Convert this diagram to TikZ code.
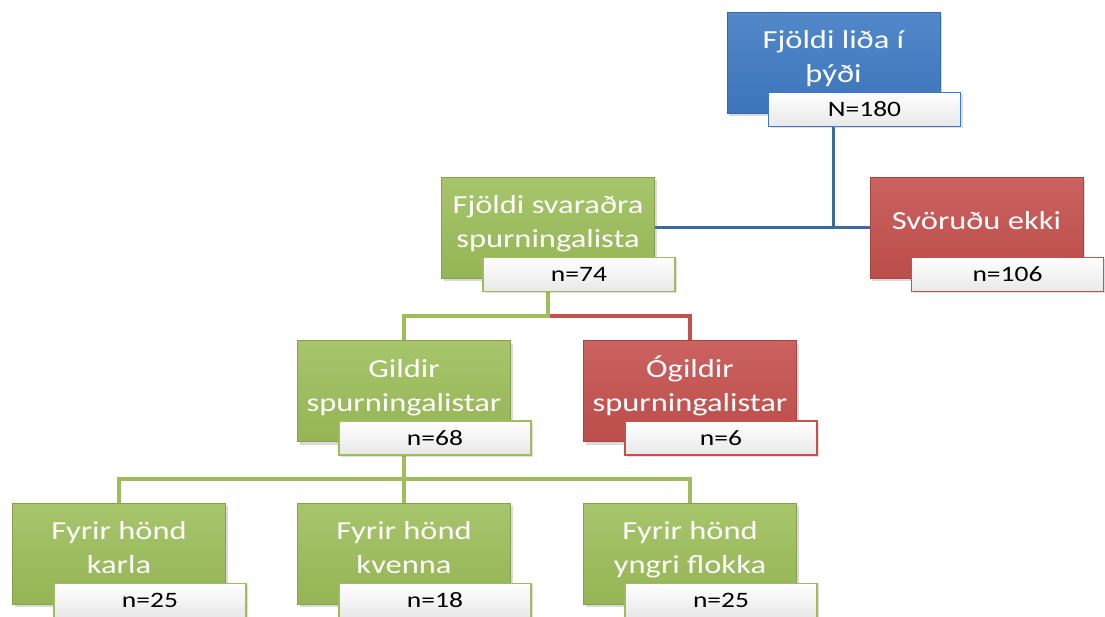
\documentclass[tikz,border=0pt]{standalone}
\usepackage{fontspec}
\setmainfont{Carlito}
\newfontfamily\boxfont[FakeStretch=1.25]{Carlito}
\usetikzlibrary{calc,backgrounds,shadows}

\definecolor{accblue}{HTML}{3F7BC4}
\definecolor{accgreen}{HTML}{9DBE5A}
\definecolor{accred}{HTML}{C5514E}
\definecolor{lineblue}{HTML}{3D6A9E}

\tikzset{
  box/.style={minimum width=213pt, minimum height=101pt, inner sep=0pt,
    align=center, text=white, font=\boxfont\fontsize{26}{34}\selectfont,
    text height=46pt, text depth=6pt,
    draw=#1!85!black, line width=0.6pt, top color=#1!90!white, bottom color=#1!95!black,
    drop shadow={shadow xshift=2pt, shadow yshift=-3pt, opacity=0.3}},
  onebox/.style={box=#1, text height=16pt, text depth=13pt},
  tally/.style={minimum width=192pt, minimum height=34pt, inner sep=0pt,
    draw=#1, line width=1.5pt, top color=white, bottom color=black!9,
    font=\boxfont\fontsize{22}{26}\selectfont,
    drop shadow={shadow xshift=2pt, shadow yshift=-2pt, opacity=0.25}},
  link/.style={line width=3.5pt, draw=#1}
}

\begin{document}
\begin{tikzpicture}[x=1pt, y=-1pt]
        \useasboundingbox (0,0) rectangle (1105,616);

        % Population
        \node[box=accblue] (b1) at (833.5,62.5) {Fjöldi liða í\\þýði};
        \node[tally=accblue] (n1) at ([xshift=31pt,yshift=4pt]b1.south) {N=180};

        % Answered / not answered
        \node[box=accgreen] (b2) at (548,227.5) {Fjöldi svaraðra\\spurningalista};
        \node[tally=accgreen] (n2) at ([xshift=31pt,yshift=4pt]b2.south) {n=74};
        \node[onebox=accred] (b3) at (976.5,227.5) {Svöruðu ekki};
        \node[tally=accred] (n3) at ([xshift=31pt,yshift=4pt]b3.south) {n=106};

        % Valid / invalid
        \node[box=accgreen] (b4) at (404,391) {Gildir\\spurningalistar};
        \node[tally=accgreen] (n4) at ([xshift=31pt,yshift=4pt]b4.south) {n=68};
        \node[box=accred] (b5) at (690,391) {Ógildir\\spurningalistar};
        \node[tally=accred] (n5) at ([xshift=31pt,yshift=4pt]b5.south) {n=6};

        % By category
        \node[box=accgreen] (b6) at (119,553.5) {Fyrir hönd\\karla};
        \node[tally=accgreen] (n6) at ([xshift=31pt,yshift=4pt]b6.south) {n=25};
        \node[box=accgreen] (b7) at (404,553.5) {Fyrir hönd\\kvenna};
        \node[tally=accgreen] (n7) at ([xshift=31pt,yshift=4pt]b7.south) {n=18};
        \node[box=accgreen] (b8) at (690,553.5) {Fyrir hönd\\yngri flokka};
        \node[tally=accgreen] (n8) at ([xshift=31pt,yshift=4pt]b8.south) {n=25};

        % Connectors
        \coordinate (f2) at ($(n2.south)!0.5!(b4.north)$);
        \coordinate (f3) at ($(n4.south)!0.5!(b7.north)$);
        \begin{pgfonlayer}{background}
            \draw[link=lineblue] (b2.east) -- (b3.west);
            \draw[link=lineblue] (b1.south) -- (b1.south |- b2.east);
            \draw[link=accred] (b2.south |- f2) -| (b5.north);
            \draw[link=accgreen] (b2.south) -- (b2.south |- f2) -| (b4.north);
            \draw[link=accgreen] (b4.south) -- (b7.north);
            \draw[link=accgreen] (b6.north) |- (b8.north |- f3) -- (b8.north);
        \end{pgfonlayer}
    \end{tikzpicture}
\end{document}
